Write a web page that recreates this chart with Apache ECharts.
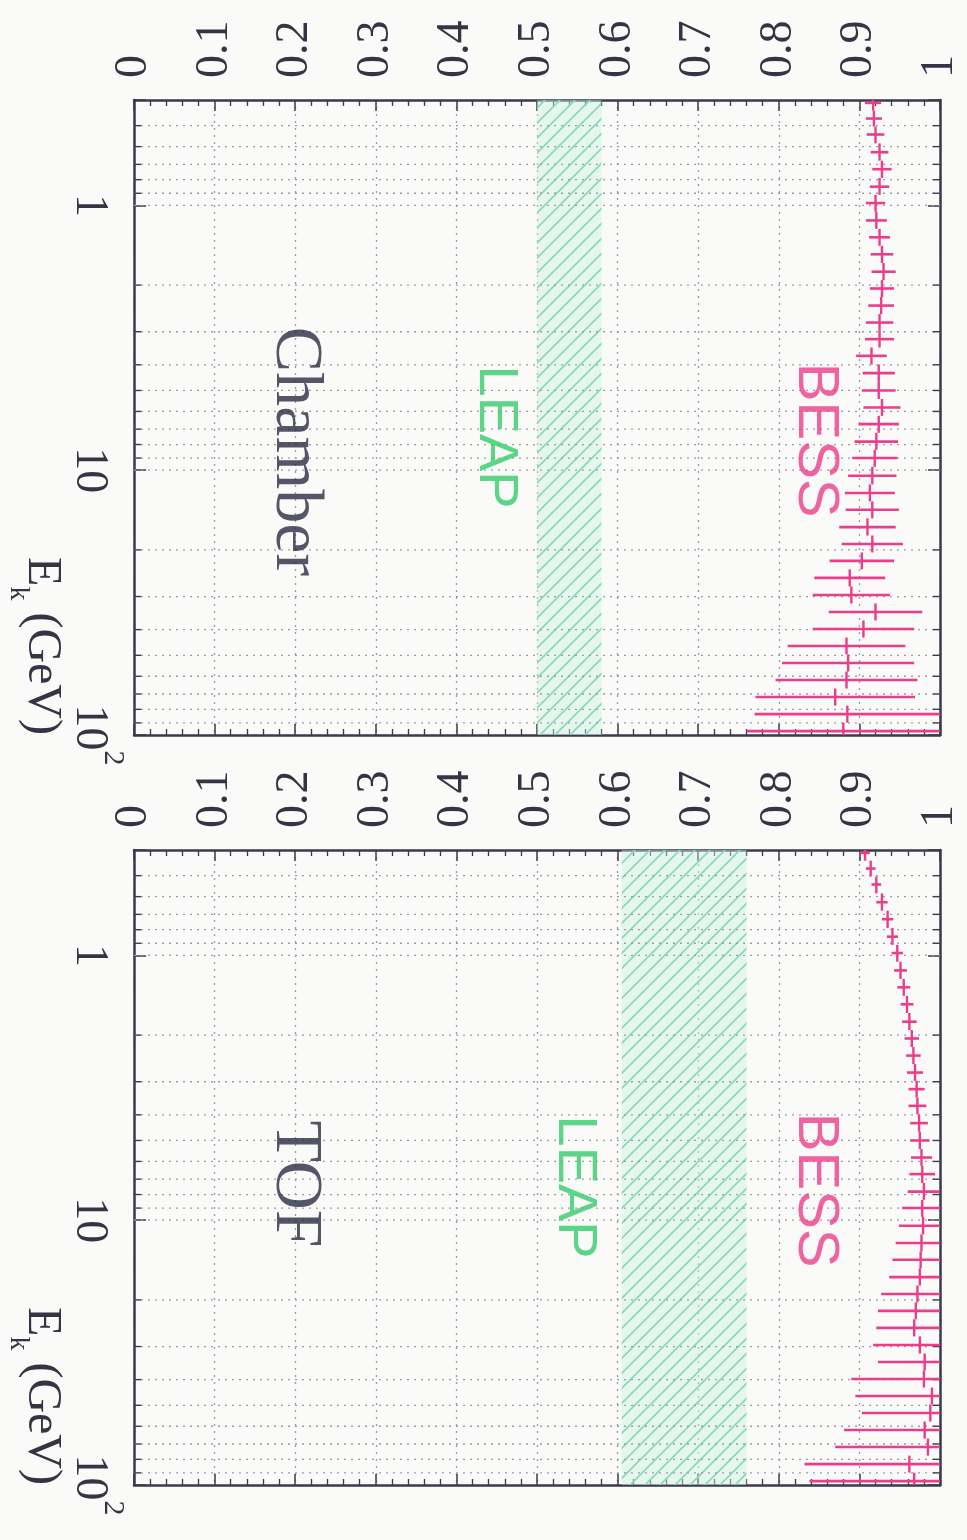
<!DOCTYPE html>
<html>
<head>
<meta charset="utf-8">
<script src="https://cdn.jsdelivr.net/npm/echarts@6/dist/echarts.min.js"></script>
<style>
  html, body { margin: 0; padding: 0; background: #fafaf8; }
  #chart { width: 967px; height: 1540px; }
</style>
</head>
<body>
<div id="chart"></div>
<script>
// Kinetic energy bin centres (GeV), shared by both detector panels
const ekBins = [0.41, 0.47, 0.54, 0.63, 0.73, 0.85, 0.98, 1.14, 1.32, 1.53,
                1.78, 2.06, 2.39, 2.77, 3.2, 3.7, 4.3, 5.0, 5.8, 6.7,
                7.8, 9.0, 10.5, 12.2, 14.1, 16.4, 19.0, 22.0, 25.5, 29.6,
                34.3, 39.8, 46.1, 53.5, 62.0, 71.9, 83.4, 96.7];

// BESS efficiency, drift chamber selection
const chamberEff = [0.917, 0.918, 0.920, 0.925, 0.928, 0.925, 0.920, 0.921, 0.925, 0.928,
                    0.930, 0.928, 0.927, 0.925, 0.925, 0.915, 0.924, 0.924, 0.928, 0.924,
                    0.921, 0.919, 0.916, 0.913, 0.916, 0.910, 0.916, 0.903, 0.888, 0.890,
                    0.920, 0.905, 0.884, 0.886, 0.884, 0.870, 0.885, 0.880];
const chamberErr = [0.010, 0.010, 0.011, 0.011, 0.012, 0.012, 0.012, 0.013, 0.013, 0.014,
                    0.015, 0.015, 0.016, 0.017, 0.018, 0.019, 0.020, 0.021, 0.023, 0.025,
                    0.027, 0.028, 0.030, 0.031, 0.033, 0.035, 0.038, 0.040, 0.044, 0.048,
                    0.058, 0.063, 0.073, 0.082, 0.088, 0.099, 0.115, 0.120];

// BESS efficiency, TOF selection
const tofEff = [0.907, 0.914, 0.921, 0.928, 0.935, 0.941, 0.947, 0.951, 0.955, 0.959,
                0.962, 0.965, 0.967, 0.969, 0.971, 0.972, 0.974, 0.975, 0.977, 0.978,
                0.980, 0.978, 0.979, 0.977, 0.976, 0.975, 0.972, 0.970, 0.968, 0.975,
                0.981, 0.980, 0.990, 0.988, 0.981, 0.985, 0.962, 0.968];
const tofErr = [0.006, 0.006, 0.006, 0.007, 0.007, 0.007, 0.007, 0.008, 0.008, 0.008,
                0.009, 0.009, 0.009, 0.010, 0.010, 0.011, 0.011, 0.012, 0.013, 0.016,
                0.020, 0.025, 0.030, 0.032, 0.035, 0.038, 0.045, 0.047, 0.047, 0.058,
                0.058, 0.090, 0.095, 0.085, 0.100, 0.115, 0.130, 0.130];

// LEAP efficiency ranges (lower, upper)
const leapChamber = [0.50, 0.58];
const leapTof = [0.605, 0.76];

// Energy axis: range, labelled decades and dotted grid values
const ekRange = [0.4, 100];
const ekLabelValues = [1, 10, 100];
const ekGridValues = [0.5, 0.6, 0.7, 0.8, 0.9, 1, 2, 3, 4, 5, 6, 7, 8, 9,
                      10, 20, 30, 40, 50, 60, 70, 80, 90];

const FRAME = '#3a3a4c';
const PINK = '#ec3d8b';
const GREEN = '#35cc6a';
const TEXT = '#343444';
const GRIDC = '#9c9ca8';
const SERIF = '"Liberation Serif", "DejaVu Serif", serif';
const SANS = '"Liberation Sans", "DejaVu Sans", sans-serif';

const GRID_LEFT = 134, GRID_W = 806, GRID_H = 635;

const panels = [
  { top: 100, eff: chamberEff, err: chamberErr, leap: leapChamber, title: 'Chamber',
    bessAt: [0.845, 7.7], leapAt: [0.448, 7.5], titleAt: [0.2, 8.5] },
  { top: 850, eff: tofEff, err: tofErr, leap: leapTof, title: 'TOF',
    bessAt: [0.845, 7.7], leapAt: [0.547, 7.5], titleAt: [0.2, 7.3] }
];

// Diagonal hatch tile for the LEAP band
function hatchTile() {
  const s = 15;
  const c = document.createElement('canvas');
  c.width = s; c.height = s;
  const g = c.getContext('2d');
  g.fillStyle = 'rgba(205,242,228,0.45)';
  g.fillRect(0, 0, s, s);
  g.strokeStyle = '#8bd9b2';
  g.lineWidth = 1.7;
  g.beginPath();
  g.moveTo(0, s); g.lineTo(s, 0);
  g.moveTo(-3, 3); g.lineTo(3, -3);
  g.moveTo(s - 3, s + 3); g.lineTo(s + 3, s - 3);
  g.stroke();
  return c;
}
const hatch = hatchTile();

// Geometric bin edges between neighbouring centres
function binEdges(centres) {
  const n = centres.length;
  return centres.map((c, i) => {
    const prev = i > 0 ? centres[i - 1] : c * c / centres[1];
    const next = i < n - 1 ? centres[i + 1] : c * c / centres[n - 2];
    return [Math.sqrt(prev * c), Math.sqrt(c * next)];
  });
}
const edges = binEdges(ekBins);

function ekLabel(v) {
  const hit = ekLabelValues.find(t => Math.abs(t - v) / t < 1e-6);
  if (hit === undefined) return '';
  if (hit === 100) return '{b|10}{s|2}';
  return '{b|' + hit + '}';
}

function renderEkGrid(params, api) {
  const ek = api.value(1);
  const l = api.coord([0, ek]);
  const r = api.coord([1, ek]);
  const isMajor = ekLabelValues.indexOf(ek) >= 0;
  const t = isMajor ? 0 : 7;
  const children = [
    { type: 'line', shape: { x1: l[0], y1: l[1], x2: r[0], y2: r[1] },
      style: { stroke: GRIDC, lineWidth: 1.3, lineDash: [2, 5] } }
  ];
  if (t) {
    children.push({ type: 'line', shape: { x1: l[0], y1: l[1], x2: l[0] + t, y2: l[1] },
      style: { stroke: FRAME, lineWidth: 1.4 } });
    children.push({ type: 'line', shape: { x1: r[0], y1: r[1], x2: r[0] - t, y2: r[1] },
      style: { stroke: FRAME, lineWidth: 1.4 } });
  }
  return { type: 'group', children };
}

function renderErrorBar(params, api) {
  const eff = api.value(0), ek = api.value(1), err = api.value(2);
  const lo = Math.max(api.value(3), ekRange[0]);
  const hi = Math.min(api.value(4), ekRange[1]);
  const a = api.coord([Math.max(eff - err, 0), ek]);
  const b = api.coord([Math.min(eff + err, 1), ek]);
  const c = api.coord([eff, lo]);
  const d = api.coord([eff, hi]);
  return {
    type: 'group',
    children: [
      { type: 'line', shape: { x1: a[0], y1: a[1], x2: b[0], y2: b[1] },
        style: { stroke: PINK, lineWidth: 2.6 } },
      { type: 'line', shape: { x1: c[0], y1: c[1], x2: d[0], y2: d[1] },
        style: { stroke: PINK, lineWidth: 2.4 } }
    ]
  };
}

function textMark(xi, yi, at, text, font, size, color) {
  return {
    type: 'scatter', xAxisIndex: xi, yAxisIndex: yi, silent: true, z: 5,
    symbolSize: 0.1, itemStyle: { color: 'transparent' },
    data: [at],
    label: { show: true, position: 'inside', rotate: -90, formatter: text,
             fontFamily: font, fontSize: size, color: color }
  };
}

const grid = [], xAxis = [], yAxis = [], series = [], graphic = [];

panels.forEach((p, i) => {
  grid.push({ left: GRID_LEFT, top: p.top, width: GRID_W, height: GRID_H,
              containLabel: false, outerBoundsMode: 'none' });

  const xBase = {
    gridIndex: i, type: 'value', min: 0, max: 1, interval: 0.1,
    axisLine: { show: true, onZero: false, lineStyle: { color: FRAME, width: 2.5 } },
    axisTick: { show: true, inside: true, length: 11, lineStyle: { color: FRAME, width: 1.5 } },
    minorTick: { show: true, splitNumber: 5, length: 6, lineStyle: { color: FRAME, width: 1.3 } }
  };
  xAxis.push(Object.assign({}, xBase, {
    position: 'top',
    axisLabel: { rotate: -90, margin: 22, fontFamily: SERIF, fontSize: 46, color: TEXT },
    splitLine: { show: true, lineStyle: { type: [2, 5], color: GRIDC, width: 1.3 } }
  }));
  xAxis.push(Object.assign({}, xBase, {
    position: 'bottom', axisLabel: { show: false }, splitLine: { show: false }
  }));

  const yBase = {
    gridIndex: i, type: 'log', logBase: 10, min: ekRange[0], max: ekRange[1], inverse: true,
    axisLine: { show: true, onZero: false, lineStyle: { color: FRAME, width: 2.5 } },
    axisTick: { show: true, inside: true, length: 12, lineStyle: { color: FRAME, width: 1.5 } },
    splitLine: { show: false }
  };
  yAxis.push(Object.assign({}, yBase, {
    position: 'left',
    axisLabel: {
      rotate: -90, margin: 6, formatter: ekLabel, color: TEXT,
      rich: {
        b: { fontFamily: SERIF, fontSize: 46, lineHeight: 62, color: TEXT, verticalAlign: 'bottom' },
        s: { fontFamily: SERIF, fontSize: 30, lineHeight: 30, color: TEXT, verticalAlign: 'top' }
      }
    }
  }));
  yAxis.push(Object.assign({}, yBase, { position: 'right', axisLabel: { show: false } }));

  const xi = 2 * i, yi = 2 * i;

  // dotted energy grid, edge ticks and the LEAP band
  series.push({
    type: 'custom', xAxisIndex: xi, yAxisIndex: yi, silent: true, z: 1,
    renderItem: renderEkGrid,
    encode: { x: 0, y: 1 },
    data: ekGridValues.map(v => [0, v]),
    markArea: {
      silent: true,
      itemStyle: { color: { image: hatch, repeat: 'repeat' } },
      data: [[{ xAxis: p.leap[0], yAxis: ekRange[0] }, { xAxis: p.leap[1], yAxis: ekRange[1] }]]
    }
  });

  // BESS points with efficiency errors and energy bin widths
  series.push({
    type: 'custom', xAxisIndex: xi, yAxisIndex: yi, silent: true, z: 4,
    renderItem: renderErrorBar,
    encode: { x: 0, y: 1 },
    data: ekBins.map((ek, k) => [p.eff[k], ek, p.err[k], edges[k][0], edges[k][1]])
  });

  series.push(textMark(xi, yi, p.bessAt, 'BESS', SANS, 58, PINK));
  series.push(textMark(xi, yi, p.leapAt, 'LEAP', SANS, 56, GREEN));
  series.push(textMark(xi, yi, p.titleAt, p.title, SERIF, 68, '#2c2c44'));

  graphic.push({
    type: 'text', x: 4, y: p.top + GRID_H, rotation: -Math.PI / 2, silent: true,
    style: {
      text: '{e|E}{k|k}{e| (GeV)}', align: 'right', verticalAlign: 'bottom',
      rich: {
        e: { fontFamily: SERIF, fontSize: 48, lineHeight: 48, fill: TEXT, color: TEXT,
             padding: [0, 0, 14, 0], verticalAlign: 'bottom' },
        k: { fontFamily: SERIF, fontSize: 28, lineHeight: 28, fill: TEXT, color: TEXT,
             verticalAlign: 'bottom' }
      }
    }
  });
});

const chart = echarts.init(document.getElementById('chart'), null, { renderer: 'canvas' });
chart.setOption({
  backgroundColor: '#fafaf8',
  animation: false,
  grid, xAxis, yAxis, series, graphic
});
</script>
</body>
</html>
